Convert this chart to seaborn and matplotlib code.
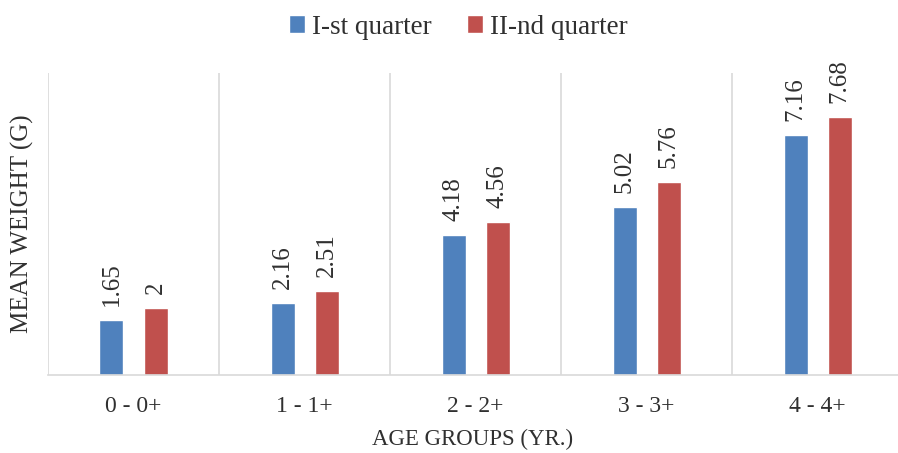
import matplotlib
matplotlib.use("Agg")
import matplotlib.pyplot as plt
from matplotlib.ticker import FixedLocator
import seaborn as sns
import pandas as pd

# Mean weight by age group for two quarters
age_groups = ["0 - 0+", "1 - 1+", "2 - 2+", "3 - 3+", "4 - 4+"]
q1_weight = [1.65, 2.16, 4.18, 5.02, 7.16]
q2_weight = [2, 2.51, 4.56, 5.76, 7.68]
series_names = ["I-st quarter", "II-nd quarter"]
colors = ["#4F81BD", "#C0504D"]

df = pd.DataFrame({
    "age": age_groups * 2,
    "weight": q1_weight + q2_weight,
    "quarter": [series_names[0]] * len(age_groups) + [series_names[1]] * len(age_groups),
})

sns.set_theme(style="white")
plt.rcParams["font.family"] = ["Liberation Serif", "DejaVu Serif"]
text_color = "#303030"

fig = plt.figure(figsize=(8.98, 4.53), dpi=100)
W, H = 898, 453
ax = fig.add_axes([48 / W, 78 / H, 850 / W, 302 / H])

sns.barplot(data=df, x="age", y="weight", hue="quarter", palette=colors,
            width=0.515, gap=0.455, saturation=1, ax=ax, legend=True)

for cont in ax.containers:
    ax.bar_label(cont, fmt="%g", rotation=90, padding=10, fontsize=18,
                 color=text_color)

ax.set_xlim(-0.5, 4.47)
ax.set_ylim(0, 9)
ax.set_yticks([])

# category separators
ax.xaxis.set_minor_locator(FixedLocator([-0.5, 0.5, 1.5, 2.5, 3.5]))
ax.grid(which="minor", axis="x", color="#d9d9d9", linewidth=1.2)
ax.grid(which="major", visible=False)
for side in ["top", "right", "left"]:
    ax.spines[side].set_visible(False)
ax.spines["bottom"].set_color("#d9d9d9")
ax.spines["bottom"].set_linewidth(1.2)

ax.tick_params(axis="x", which="both", length=0, pad=15, labelsize=17,
               labelcolor=text_color)
ax.set_xlabel("AGE GROUPS (YR.)", fontsize=16.5, color=text_color, labelpad=9)
ax.set_ylabel("MEAN WEIGHT (G)", fontsize=18, color=text_color)
ax.yaxis.set_label_coords(-0.017, 0.5)

handles, labels = ax.get_legend_handles_labels()
ax.get_legend().remove()
fig.legend(handles, labels, loc="center", ncol=2, frameon=False,
           bbox_to_anchor=(458 / W, 1 - 27 / H), bbox_transform=fig.transFigure,
           fontsize=19.5, handlelength=0.6, handleheight=0.6,
           handletextpad=0.25, columnspacing=1.3, labelcolor=text_color)

fig.savefig("out.png", dpi=100, facecolor="white")
